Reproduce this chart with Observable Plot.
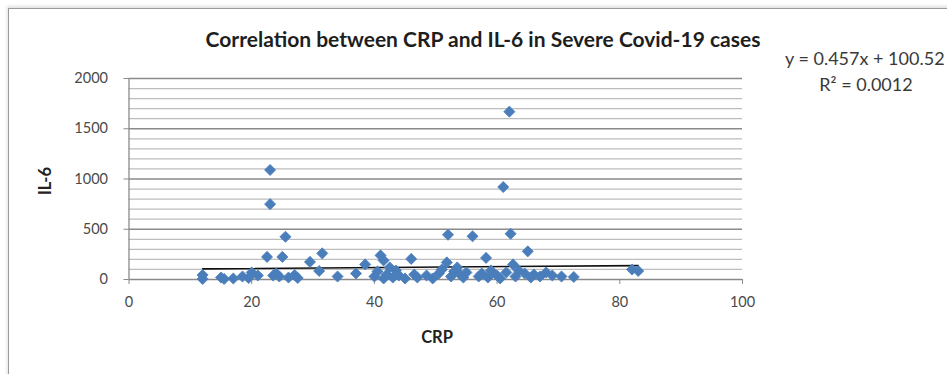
<!DOCTYPE html>
<html>
<head>
<meta charset="utf-8">
<script src="https://cdn.jsdelivr.net/npm/d3@7"></script>
<script src="https://cdn.jsdelivr.net/npm/@observablehq/plot@0.6"></script>
<style>
  html, body { margin: 0; padding: 0; background: #fff; }
  #wrap { position: relative; width: 947px; height: 374px; overflow: hidden; font-family: Lato, "Open Sans", sans-serif; }
  #frame { position: absolute; left: 8px; top: 8px; width: 960px; height: 400px; border-left: 1.5px solid #9a9a9a; border-top: 1.5px solid #9a9a9a; box-shadow: -1px -2px 3px rgba(0,0,0,0.12); }
  #plot { position: absolute; left: 0; top: 0; }
  .ov { position: absolute; white-space: nowrap; color: #2b2b2b; }
  #title { left: 483px; top: 38px; transform: translate(-50%, -50%); font-weight: 700; font-size: 21px; color: #1e1e1e; }
  #eq1 { left: 785px; top: 58px; transform: translateY(-50%); font-size: 18px; color: #3a3a3a; }
  #eq2 { left: 866px; top: 84px; transform: translate(-50%, -50%); font-size: 18px; color: #3a3a3a; }
  #xl { left: 437px; top: 337px; transform: translate(-50%, -50%); font-size: 16.5px; font-weight: 700; color: #222; }
  #yl { left: 45px; top: 181px; font-size: 16.5px; font-weight: 700; color: #222; transform: translate(-50%, -50%) rotate(-90deg); }
</style>
</head>
<body>
<div id="wrap">
  <div id="frame"></div>
  <div id="plot"></div>
  <div class="ov" id="title">Correlation between CRP and IL-6 in Severe Covid-19 cases</div>
  <div class="ov" id="eq1">y = 0.457x + 100.52</div>
  <div class="ov" id="eq2">R² = 0.0012</div>
  <div class="ov" id="xl">CRP</div>
  <div class="ov" id="yl">IL-6</div>
</div>
<script>
// CRP values (x) and IL-6 values (y)
const crp = [
  12, 12, 15, 15.5, 17, 18.5, 19.5, 20, 21,
  22.5, 23, 23, 23.5, 24, 24.5, 25, 25.5, 26, 27, 27.5,
  29.5, 31, 31.5, 34, 37, 38.5,
  40, 40.5, 41, 41.5, 41.5, 42, 42.5, 43, 43.5, 44, 45, 46, 46.5, 47, 48.5, 49.5,
  50.5, 51, 51.8, 52, 52.5, 53, 53.5, 54, 54.5, 55, 56,
  57, 57.5, 58.2, 58.5, 59, 60, 60.5, 61, 61.5, 62, 62.2, 62.6, 63, 63.5,
  64.5, 65, 65.5, 66, 67, 68, 69, 70.5, 72.5, 82, 83
];
const il6 = [
  45, 5, 20, 5, 10, 30, 15, 70, 40,
  225, 1090, 750, 40, 60, 30, 225, 425, 20, 45, 15,
  175, 85, 260, 30, 60, 150,
  30, 80, 240, 190, 10, 50, 120, 20, 90, 40, 10, 205, 50, 20, 40, 10,
  60, 100, 170, 445, 30, 80, 120, 50, 20, 70, 430,
  30, 60, 215, 20, 90, 40, 10, 920, 70, 1670, 455, 150, 30, 90,
  60, 280, 20, 50, 30, 70, 40, 30, 25, 100, 85
];
// Trendline as labelled on the chart
const slope = 0.457;
const intercept = 100.52;
const xTicks = [0, 20, 40, 60, 80, 100];
const yTicks = [0, 500, 1000, 1500, 2000];
const yMinor = [100, 200, 300, 400, 600, 700, 800, 900, 1100, 1200, 1300, 1400, 1600, 1700, 1800, 1900];

const pts = crp.map((c, i) => ({crp: c, il6: il6[i]}));
const xmin = d3.min(crp), xmax = d3.max(crp);
const trend = [xmin, xmax].map(x => ({crp: x, il6: slope * x + intercept}));

const chart = Plot.plot({
  width: 947,
  height: 374,
  marginLeft: 128.5,
  marginRight: 205,
  marginTop: 78,
  marginBottom: 95,
  style: {fontFamily: "Lato, 'Open Sans', sans-serif", fontSize: "14.5px", color: "#444", background: "transparent", overflow: "visible"},
  x: {domain: [0, 100], label: null},
  y: {domain: [0, 2000], label: null},
  marks: [
    Plot.ruleY(yMinor, {stroke: "#bdbdbd", strokeWidth: 1.3}),
    Plot.ruleY(yTicks, {stroke: "#8a8a8a", strokeWidth: 1.3}),
    Plot.ruleX([0], {y1: 0, y2: 2000, stroke: "#8a8a8a", strokeWidth: 1.3}),
    Plot.axisX({ticks: xTicks, tickSize: 5, tickPadding: 12, tickFormat: d => String(d), stroke: "#8a8a8a", fill: "#4a4a4a", label: null}),
    Plot.axisY({ticks: yTicks, tickSize: 5, tickPadding: 16, tickFormat: d => String(d), stroke: "#8a8a8a", fill: "#4a4a4a", label: null}),
    Plot.line(trend, {x: "crp", y: "il6", stroke: "#111", strokeWidth: 1.6}),
    Plot.dot(pts, {x: "crp", y: "il6", symbol: "diamond2", r: 5, fill: "#4a7ebb", stroke: "#4a7ebb", strokeWidth: 0.8})
  ]
});
document.getElementById("plot").appendChild(chart);
</script>
</body>
</html>
